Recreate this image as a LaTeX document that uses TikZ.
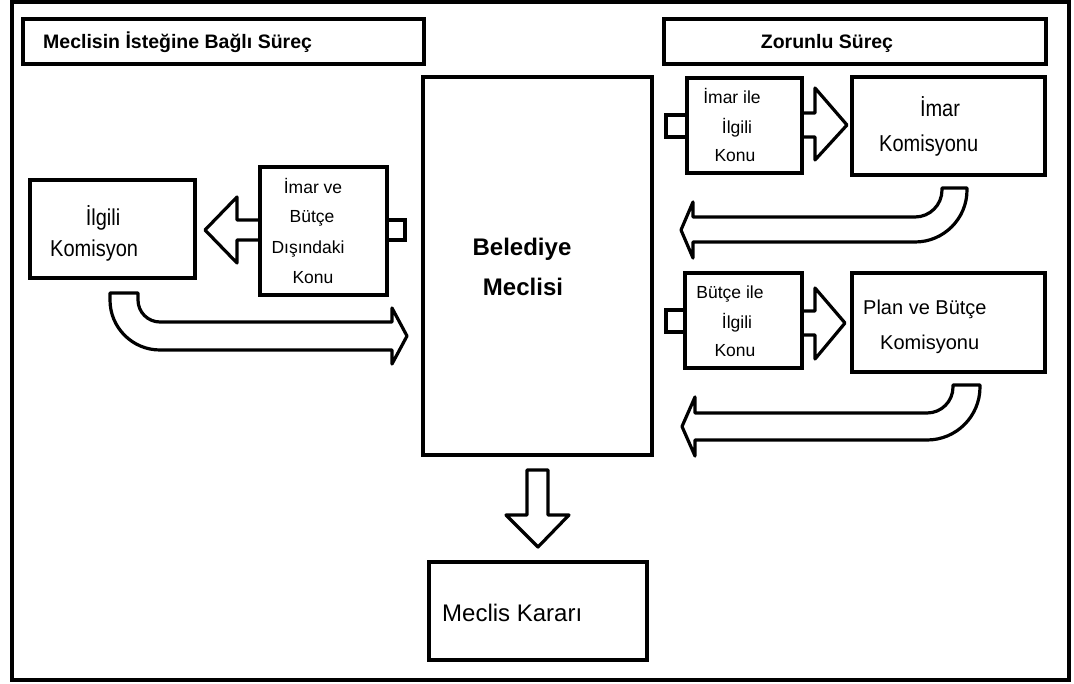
\documentclass[tikz,border=0pt]{standalone}
\usepackage{fontspec}
\setmainfont{Liberation Sans}
\newfontfamily\darfont[FakeStretch=0.87]{Liberation Sans}
\usepackage{tikz}

\begin{document}
\begin{tikzpicture}[x=1pt,y=1pt,yscale=-1,xscale=1,
  kutu/.style={draw, line width=4pt, fill=white, inner sep=0pt, outer sep=0pt, anchor=north west},
  blokok/.style={draw, line width=3.2pt, fill=white, line join=round},
  cikinti/.style={draw, line width=3.5pt},
  yazi/.style={inner sep=0pt, font=\fontsize{20}{24}\selectfont, text height=14.3pt, text depth=0pt},
  daryazi/.style={inner sep=0pt, font=\darfont\fontsize{23}{27}\selectfont, text height=16.5pt, text depth=0pt},
  kucukyazi/.style={inner sep=0pt, font=\fontsize{17.5}{20}\selectfont, text height=12.5pt, text depth=0pt},
  baslik/.style={inner sep=0pt, font=\bfseries\fontsize{19.5}{23}\selectfont, text height=14pt, text depth=0pt},
  meclisyazi/.style={inner sep=0pt, font=\bfseries\fontsize{24}{28}\selectfont, text height=17.2pt, text depth=0pt}]
\useasboundingbox (0,0) rectangle (1074,684);

%Shape: Frame
\draw [line width=4pt] (12,2) rectangle (1069,680);

%Shape: Left Arrow
\draw [blokok] (260,220) -- (237,220) -- (237,197) -- (205,230) -- (237,263) -- (237,240) -- (260,240);
%Shape: Right Arrow
\draw [blokok] (802,113) -- (815,113) -- (815,88) -- (847,125) -- (815,160) -- (815,137) -- (802,137);
%Shape: Right Arrow
\draw [blokok] (802,311) -- (815,311) -- (815,288) -- (845,323) -- (815,359) -- (815,335) -- (802,335);
%Shape: Bent Arrow
\draw [blokok] (138,293) -- (110,293) -- (110,300) .. controls (110,327.6) and (132.4,350) .. (160,350) -- (392,350) -- (392,364) -- (407,336) -- (392,308) -- (392,322) -- (160,322) .. controls (147.85,322) and (138,312.15) .. (138,300) -- cycle;
%Shape: Bent Arrow
\draw [blokok] (942,188) -- (967,188) -- (967,190) .. controls (967,218.7) and (943.7,242) .. (915,242) -- (693,242) -- (693,258) -- (681,230) -- (693,202) -- (693,217) -- (915,217) .. controls (929.9,217) and (942,204.9) .. (942,190) -- cycle;
%Shape: Bent Arrow
\draw [blokok] (953,385) -- (980,385) -- (980,387) .. controls (980,416.3) and (956.3,440) .. (927,440) -- (695,440) -- (695,456) -- (682,426.5) -- (695,397) -- (695,413) -- (927,413) .. controls (941.4,413) and (953,401.4) .. (953,387) -- cycle;
%Shape: Down Arrow
\draw [blokok] (527,470) -- (548,470) -- (548,515) -- (569,515) -- (538,547) -- (506,515) -- (527,515) -- cycle;

%Shape: Tabs
\draw [cikinti] (387,220) -- (405,220) -- (405,240) -- (387,240);
\draw [cikinti] (687,115) -- (666,115) -- (666,137) -- (687,137);
\draw [cikinti] (685,310) -- (666,310) -- (666,332) -- (685,332);

%Shape: Rectangles
\node [kutu, minimum width=401pt, minimum height=45pt] (istege) at (23,19) {};
\node [kutu, minimum width=382pt, minimum height=45pt] (zorunlu) at (664,19) {};
\node [kutu, minimum width=229pt, minimum height=378pt] (meclis) at (423,77) {};
\node [kutu, minimum width=165pt, minimum height=98pt] (ilgilikom) at (30,180) {};
\node [kutu, minimum width=127pt, minimum height=128pt] (disindaki) at (260,167) {};
\node [kutu, minimum width=115pt, minimum height=95pt] (imarkonu) at (687,78) {};
\node [kutu, minimum width=193pt, minimum height=98pt] (imarkom) at (852,77) {};
\node [kutu, minimum width=117pt, minimum height=95pt] (butcekonu) at (685,273) {};
\node [kutu, minimum width=193pt, minimum height=99pt] (plankom) at (852,273) {};
\node [kutu, minimum width=218pt, minimum height=98pt] (karar) at (429,562) {};

% Text Node
\node [baslik, anchor=west] (istegeyazi) at (43,42) {Meclisin İsteğine Bağlı Süreç};
% Text Node
\node [baslik] (zorunluyazi) at (827,42) {Zorunlu Süreç};
% Text Node
\node [meclisyazi] (meclisyazi1) at (522,247) {Belediye};
\node [meclisyazi] (meclisyazi2) at (523,287) {Meclisi};
% Text Node
\node [daryazi] (ilgiliyazi1) at (103,217) {İlgili};
\node [daryazi, anchor=west] (ilgiliyazi2) at (50,248) {Komisyon};
% Text Node
\node [kucukyazi] (disyazi1) at (313,187) {İmar ve};
\node [kucukyazi] (disyazi2) at (312,216) {Bütçe};
\node [kucukyazi] (disyazi3) at (308,247) {Dışındaki};
\node [kucukyazi] (disyazi4) at (313,277) {Konu};
% Text Node
\node [kucukyazi] (imaryazi1) at (732,97) {İmar ile};
\node [kucukyazi] (imaryazi2) at (737,127) {İlgili};
\node [kucukyazi] (imaryazi3) at (735,155) {Konu};
% Text Node
\node [daryazi] (imarkomyazi1) at (940,108) {İmar};
\node [daryazi, anchor=west] (imarkomyazi2) at (879,143) {Komisyonu};
% Text Node
\node [kucukyazi] (butceyazi1) at (730,292) {Bütçe ile};
\node [kucukyazi] (butceyazi2) at (737,322) {İlgili};
\node [kucukyazi] (butceyazi3) at (735,350) {Konu};
% Text Node
\node [yazi, anchor=west] (planyazi1) at (863,307) {Plan ve Bütçe};
\node [yazi, anchor=west] (planyazi2) at (880,342) {Komisyonu};
% Text Node
\node [yazi, font=\fontsize{24}{28}\selectfont, text height=17.2pt, anchor=west] (kararyazi) at (442,613) {Meclis Kararı};

\end{tikzpicture}
\end{document}
